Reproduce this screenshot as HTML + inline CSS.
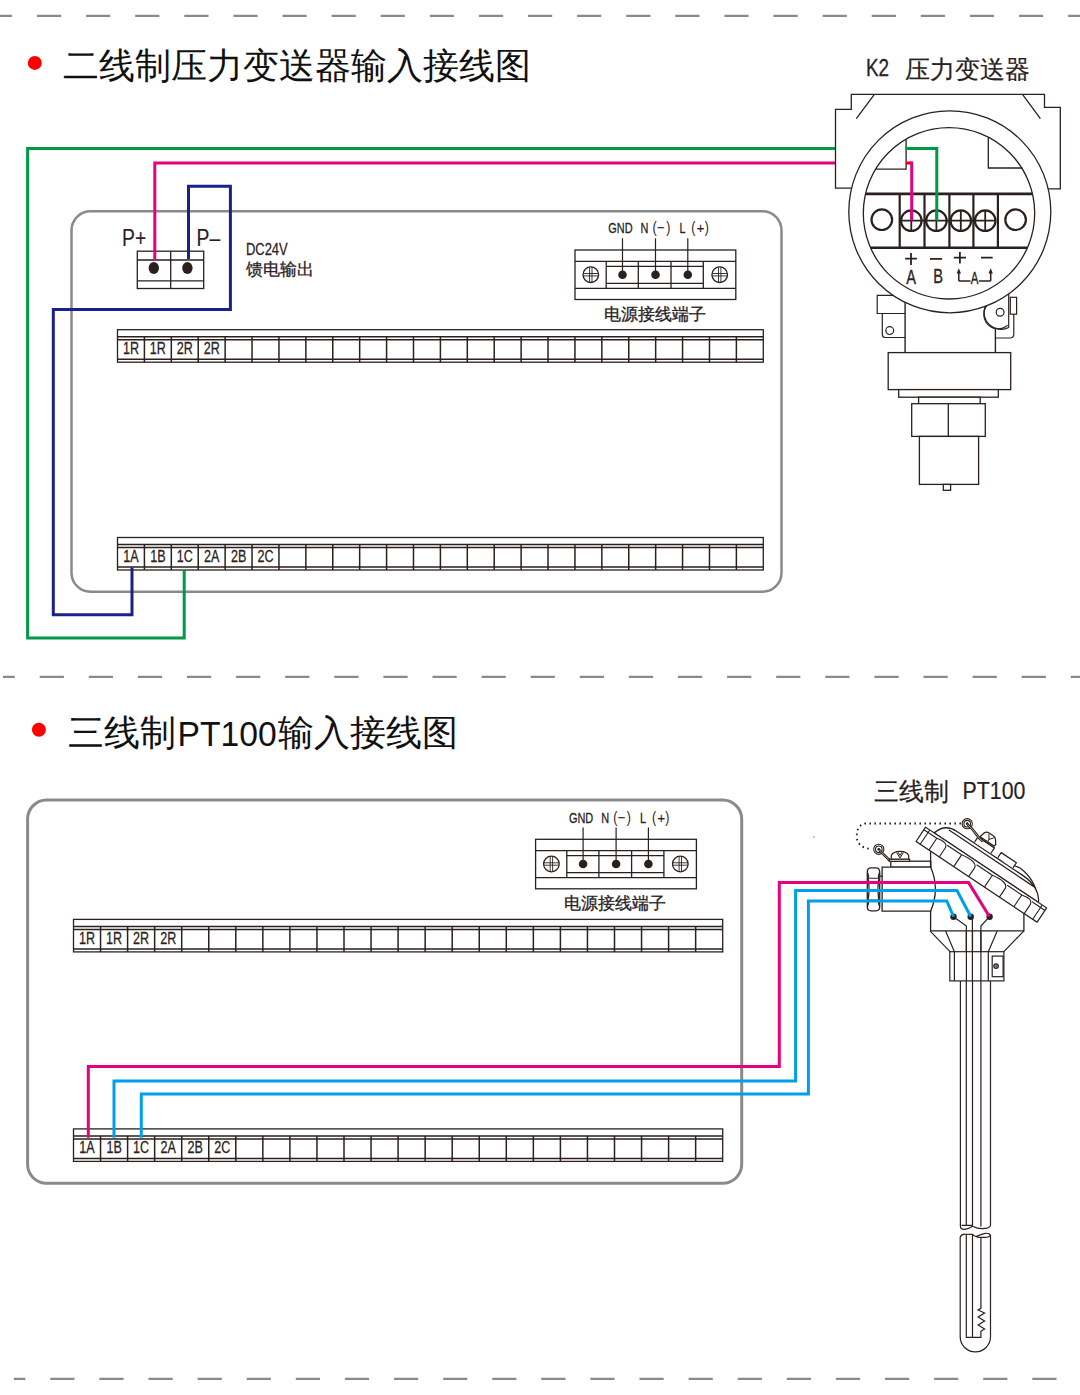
<!DOCTYPE html><html><head><meta charset="utf-8"><style>html,body{margin:0;padding:0;background:#fff;width:1080px;height:1395px;overflow:hidden}svg{display:block;font-family:"Liberation Sans",sans-serif}</style></head><body>
<svg width="1080" height="1395" viewBox="0 0 1080 1395">
<rect width="1080" height="1395" fill="#fff"/>
<path d="M0.0 15.9H12.1M37.0 15.9H61.2M86.1 15.9H110.3M135.2 15.9H159.4M184.3 15.9H208.5M233.4 15.9H257.6M282.5 15.9H306.7M331.6 15.9H355.8M380.7 15.9H404.9M429.8 15.9H454.0M478.9 15.9H503.1M528.0 15.9H552.2M577.1 15.9H601.3M626.2 15.9H650.4M675.3 15.9H699.5M724.4 15.9H748.6M773.5 15.9H797.7M822.6 15.9H846.8M871.7 15.9H895.9M920.8 15.9H945.0M969.9 15.9H994.1M1019.0 15.9H1043.2M1068.1 15.9H1080.0" stroke="#8a8a8a" stroke-width="2.2" fill="none"/>
<path d="M3.0 676.9H14.8M39.7 676.9H63.9M88.8 676.9H113.0M137.9 676.9H162.1M187.0 676.9H211.2M236.1 676.9H260.3M285.2 676.9H309.4M334.3 676.9H358.5M383.4 676.9H407.6M432.5 676.9H456.7M481.6 676.9H505.8M530.7 676.9H554.9M579.8 676.9H604.0M628.9 676.9H653.1M678.0 676.9H702.2M727.1 676.9H751.3M776.2 676.9H800.4M825.3 676.9H849.5M874.4 676.9H898.6M923.5 676.9H947.7M972.6 676.9H996.8M1021.7 676.9H1045.9M1070.8 676.9H1080.0" stroke="#8a8a8a" stroke-width="2.2" fill="none"/>
<path d="M13.9 1378.9H25.4M50.3 1378.9H74.5M99.4 1378.9H123.6M148.5 1378.9H172.7M197.6 1378.9H221.8M246.7 1378.9H270.9M295.8 1378.9H320.0M344.9 1378.9H369.1M394.0 1378.9H418.2M443.1 1378.9H467.3M492.2 1378.9H516.4M541.3 1378.9H565.5M590.4 1378.9H614.6M639.5 1378.9H663.7M688.6 1378.9H712.8M737.7 1378.9H761.9M786.8 1378.9H811.0M835.9 1378.9H860.1M885.0 1378.9H909.2M934.1 1378.9H958.3M983.2 1378.9H1007.4M1032.3 1378.9H1056.5" stroke="#8a8a8a" stroke-width="2.2" fill="none"/>
<circle cx="34.8" cy="62.9" r="7" fill="#ff0000"/>
<text transform="translate(63.4,77.5) scale(1.0,1)" font-family="'Liberation Sans',sans-serif" font-size="35.9" text-anchor="start" fill="#111" font-weight="normal" >二线制压力变送器输入接线图</text>
<rect x="71.5" y="211.2" width="710" height="380.5" rx="19" fill="none" stroke="#8a8a8a" stroke-width="2.5"/>
<g stroke="#2a211e" fill="none" stroke-width="1.3"><rect x="137.3" y="251.2" width="66.4" height="37.3"/><path d="M170.7 251.2V288.5M137.3 260H203.7M137.3 280.8H203.7"/></g>
<ellipse cx="153.8" cy="268" rx="5.2" ry="6" fill="#2a211e"/><ellipse cx="187.4" cy="268" rx="5.2" ry="6" fill="#2a211e"/>
<text transform="translate(122,245.6) scale(0.78,1)" font-family="'Liberation Sans',sans-serif" font-size="24.8" text-anchor="start" fill="#2a211e" font-weight="normal" stroke="#2a211e" stroke-width="0.15" >P+</text>
<text transform="translate(196.5,245.6) scale(0.78,1)" font-family="'Liberation Sans',sans-serif" font-size="24.8" text-anchor="start" fill="#2a211e" font-weight="normal" stroke="#2a211e" stroke-width="0.15" >P–</text>
<text transform="translate(245.9,254.8) scale(0.76,1)" font-family="'Liberation Sans',sans-serif" font-size="17.1" text-anchor="start" fill="#2a211e" font-weight="normal" stroke="#2a211e" stroke-width="0.25" >DC24V</text>
<text transform="translate(246,275) scale(1.0,1)" font-family="'Liberation Sans',sans-serif" font-size="16.5" text-anchor="start" fill="#2a211e" font-weight="normal" stroke="#2a211e" stroke-width="0.3" >馈电输出</text>
<g stroke="#2a211e" fill="none" stroke-width="1.3">
<rect x="575.0" y="250.0" width="160.8" height="49.5"/>
<path d="M575.0 261.3H735.8M575.0 288.3H735.8"/>
<path d="M606.2 261.3V288.3M638.3 261.3V288.3M671.0 261.3V288.3M703.3 261.3V288.3"/>
<path d="M606.2 266.3H703.3M606.2 283.3H703.3"/>
<path d="M622.5 238.3V274.7M655.5 238.3V274.7M687.8 238.3V274.7" stroke-width="1.2"/>
<circle cx="590.8" cy="274.7" r="7.8"/>
<path d="M589.6 267.2V282.2M592.0 267.2V282.2M583.3 273.5H598.3M583.3 275.9H598.3" stroke-width="0.9"/>
<circle cx="719.7" cy="274.7" r="7.8"/>
<path d="M718.5 267.2V282.2M720.9 267.2V282.2M712.2 273.5H727.2M712.2 275.9H727.2" stroke-width="0.9"/>
</g>
<circle cx="622.5" cy="274.7" r="4.3" fill="#2a211e"/>
<circle cx="655.5" cy="274.7" r="4.3" fill="#2a211e"/>
<circle cx="687.8" cy="274.7" r="4.3" fill="#2a211e"/>
<text transform="translate(608.3,233.3) scale(0.72,1)" font-family="'Liberation Sans',sans-serif" font-size="15.2" text-anchor="start" fill="#2a211e" font-weight="normal" stroke="#2a211e" stroke-width="0.3" >GND</text>
<text transform="translate(640.6,233.3) scale(0.72,1)" font-family="'Liberation Sans',sans-serif" font-size="15.2" text-anchor="start" fill="#2a211e" font-weight="normal" stroke="#2a211e" stroke-width="0.3" >N</text>
<text transform="translate(654.6,233.2) scale(0.75,1)" font-family="'Liberation Sans',sans-serif" font-size="16.5" text-anchor="middle" fill="#2a211e" font-weight="normal" >(</text>
<text transform="translate(660.8,233.3) scale(0.85,1)" font-family="'Liberation Sans',sans-serif" font-size="15.2" text-anchor="middle" fill="#2a211e" font-weight="normal" stroke="#2a211e" stroke-width="0.2" >−</text>
<text transform="translate(668.2,233.2) scale(0.75,1)" font-family="'Liberation Sans',sans-serif" font-size="16.5" text-anchor="middle" fill="#2a211e" font-weight="normal" >)</text>
<text transform="translate(679.4,233.3) scale(0.72,1)" font-family="'Liberation Sans',sans-serif" font-size="15.2" text-anchor="start" fill="#2a211e" font-weight="normal" stroke="#2a211e" stroke-width="0.3" >L</text>
<text transform="translate(693.4,233.2) scale(0.75,1)" font-family="'Liberation Sans',sans-serif" font-size="16.5" text-anchor="middle" fill="#2a211e" font-weight="normal" >(</text>
<text transform="translate(700.6,233.3) scale(0.85,1)" font-family="'Liberation Sans',sans-serif" font-size="15.2" text-anchor="middle" fill="#2a211e" font-weight="normal" stroke="#2a211e" stroke-width="0.2" >+</text>
<text transform="translate(706.7,233.2) scale(0.75,1)" font-family="'Liberation Sans',sans-serif" font-size="16.5" text-anchor="middle" fill="#2a211e" font-weight="normal" >)</text>
<text transform="translate(654.5,320.0) scale(1.0,1)" font-family="'Liberation Sans',sans-serif" font-size="16.6" text-anchor="middle" fill="#2a211e" font-weight="normal" stroke="#2a211e" stroke-width="0.3" >电源接线端子</text>
<g stroke="#2a211e" fill="none" stroke-width="1.3">
<rect x="117.5" y="329.7" width="645.79" height="32.5"/>
<path d="M117.5 336.7H763.29M117.5 339.7H763.29M117.5 359.2H763.29" stroke-width="1.5"/>
<path d="M144.41 336.7V362.2M171.32 336.7V362.2M198.22 336.7V362.2M225.13 336.7V362.2M252.04 336.7V362.2M278.95 336.7V362.2M305.86 336.7V362.2M332.76 336.7V362.2M359.67 336.7V362.2M386.58 336.7V362.2M413.49 336.7V362.2M440.40 336.7V362.2M467.30 336.7V362.2M494.21 336.7V362.2M521.12 336.7V362.2M548.03 336.7V362.2M574.94 336.7V362.2M601.84 336.7V362.2M628.75 336.7V362.2M655.66 336.7V362.2M682.57 336.7V362.2M709.48 336.7V362.2M736.38 336.7V362.2" stroke-width="1.5"/>
</g>
<text transform="translate(130.95,353.8) scale(0.8,1)" font-family="'Liberation Sans',sans-serif" font-size="15.7" text-anchor="middle" fill="#2a211e" font-weight="normal" stroke="#2a211e" stroke-width="0.25" >1R</text>
<text transform="translate(157.86,353.8) scale(0.8,1)" font-family="'Liberation Sans',sans-serif" font-size="15.7" text-anchor="middle" fill="#2a211e" font-weight="normal" stroke="#2a211e" stroke-width="0.25" >1R</text>
<text transform="translate(184.77,353.8) scale(0.8,1)" font-family="'Liberation Sans',sans-serif" font-size="15.7" text-anchor="middle" fill="#2a211e" font-weight="normal" stroke="#2a211e" stroke-width="0.25" >2R</text>
<text transform="translate(211.68,353.8) scale(0.8,1)" font-family="'Liberation Sans',sans-serif" font-size="15.7" text-anchor="middle" fill="#2a211e" font-weight="normal" stroke="#2a211e" stroke-width="0.25" >2R</text>
<g stroke="#2a211e" fill="none" stroke-width="1.3">
<rect x="117.5" y="537.5" width="645.79" height="32.5"/>
<path d="M117.5 544.5H763.29M117.5 547.5H763.29M117.5 567.0H763.29" stroke-width="1.5"/>
<path d="M144.41 544.5V570.0M171.32 544.5V570.0M198.22 544.5V570.0M225.13 544.5V570.0M252.04 544.5V570.0M278.95 544.5V570.0M305.86 544.5V570.0M332.76 544.5V570.0M359.67 544.5V570.0M386.58 544.5V570.0M413.49 544.5V570.0M440.40 544.5V570.0M467.30 544.5V570.0M494.21 544.5V570.0M521.12 544.5V570.0M548.03 544.5V570.0M574.94 544.5V570.0M601.84 544.5V570.0M628.75 544.5V570.0M655.66 544.5V570.0M682.57 544.5V570.0M709.48 544.5V570.0M736.38 544.5V570.0" stroke-width="1.5"/>
</g>
<text transform="translate(130.95,561.6) scale(0.8,1)" font-family="'Liberation Sans',sans-serif" font-size="15.7" text-anchor="middle" fill="#2a211e" font-weight="normal" stroke="#2a211e" stroke-width="0.25" >1A</text>
<text transform="translate(157.86,561.6) scale(0.8,1)" font-family="'Liberation Sans',sans-serif" font-size="15.7" text-anchor="middle" fill="#2a211e" font-weight="normal" stroke="#2a211e" stroke-width="0.25" >1B</text>
<text transform="translate(184.77,561.6) scale(0.8,1)" font-family="'Liberation Sans',sans-serif" font-size="15.7" text-anchor="middle" fill="#2a211e" font-weight="normal" stroke="#2a211e" stroke-width="0.25" >1C</text>
<text transform="translate(211.68,561.6) scale(0.8,1)" font-family="'Liberation Sans',sans-serif" font-size="15.7" text-anchor="middle" fill="#2a211e" font-weight="normal" stroke="#2a211e" stroke-width="0.25" >2A</text>
<text transform="translate(238.59,561.6) scale(0.8,1)" font-family="'Liberation Sans',sans-serif" font-size="15.7" text-anchor="middle" fill="#2a211e" font-weight="normal" stroke="#2a211e" stroke-width="0.25" >2B</text>
<text transform="translate(265.49,561.6) scale(0.8,1)" font-family="'Liberation Sans',sans-serif" font-size="15.7" text-anchor="middle" fill="#2a211e" font-weight="normal" stroke="#2a211e" stroke-width="0.25" >2C</text>
<path d="M836 148.5H27.6V638H184.2V570" fill="none" stroke="#009a46" stroke-width="3" stroke-linejoin="miter"/>
<path d="M836 163H154.8V260" fill="none" stroke="#e4007f" stroke-width="3"/>
<path d="M188.5 259V186.3H230.4V309.5H53.3V614.8H132V567.5" fill="none" stroke="#1d2088" stroke-width="3"/>
<text transform="translate(866,76.1) scale(0.8,1)" font-family="'Liberation Sans',sans-serif" font-size="23.6" text-anchor="start" fill="#2a211e" font-weight="normal" stroke="#2a211e" stroke-width="0.3" >K2</text>
<text transform="translate(905,77.5) scale(1.0,1)" font-family="'Liberation Sans',sans-serif" font-size="24.5" text-anchor="start" fill="#2a211e" font-weight="normal" stroke="#2a211e" stroke-width="0.2" >压力变送器</text>
<g stroke="#2a211e" fill="none" stroke-width="1.3">
<path d="M851.5 188.2H835.5V109.4H851.3V94.4H1044.5V107.3H1060.3V188.8H1047.5"/>
<path d="M874.4 94.4L856.3 118.7M1022.5 94.4L1040.4 118.7"/>
</g>
<g stroke="#2a211e" fill="none" stroke-width="1.2">
<path d="M905.1 290V352.6M995.4 290V352.6" stroke-width="1.4"/>
<path d="M905 295.4H877.2V313.5H905M882.3 313.5V334.5Q882.3 337.5 885.3 337.5H905"/>
<circle cx="889.7" cy="330.6" r="3.9"/>
<path d="M995.6 338H1010Q1013.8 338 1013.8 334V314.2"/>
<path d="M985.1 290V306.3A17 17 0 0 0 1008.7 327.5V290Z" fill="#fff"/>
<path d="M988.8 303.5A14 14 0 0 0 1007.6 325.3"/>
<circle cx="1000.1" cy="312.3" r="3.9"/>
<rect x="1010.3" y="297.3" width="6.3" height="16.9" fill="#fff"/>
</g>
<circle cx="949.8" cy="211.8" r="101" fill="#fff" stroke="#2a211e" stroke-width="1.3"/>
<circle cx="949" cy="213.3" r="85.7" fill="#fff" stroke="#2a211e" stroke-width="1.3"/>
<g stroke="#2a211e" fill="none" stroke-width="1.3">
<path d="M906.1 139.2V169.1H875.6M988.3 137.6V168H1022.4"/>
</g>
<g stroke="#2a211e" fill="none" stroke-width="2.2">
<path d="M865.5 193.9H1032.5M870.6 247.8H1027.4" stroke-width="2.6"/>
<path d="M899.7 193.9V247.8M924.5 193.9V247.8M949.4 193.9V247.8M973.4 193.9V247.8M997.9 193.9V247.8"/>
<circle cx="881.8" cy="219.7" r="10.3"/><circle cx="1015.6" cy="219.7" r="10.3"/>
<circle cx="911.3" cy="220.7" r="10.3"/>
<path d="M911.3 210.4V231" stroke-width="1.8"/>
<circle cx="936.4" cy="220.7" r="10.3"/>
<path d="M936.4 210.4V231" stroke-width="1.8"/>
<circle cx="960.8" cy="220.7" r="10.3"/>
<path d="M960.8 210.4V231" stroke-width="1.8"/>
<circle cx="985.2" cy="220.7" r="10.3"/>
<path d="M985.2 210.4V231" stroke-width="1.8"/>
<path d="M901 220.7H995.5" stroke-width="1.8"/>
</g>
<path d="M905.5 148.5H936.8V220.7" fill="none" stroke="#009a46" stroke-width="3"/>
<path d="M906 163H911.7" fill="none" stroke="#e60012" stroke-width="3"/>
<path d="M911.7 161.5V220.7" fill="none" stroke="#e4007f" stroke-width="3"/>
<g stroke="#2a211e" stroke-width="1.8" fill="none">
<path d="M905.2 258.7H916.9M911 252.9V265M930 258.9H942.1M953.8 257.7H966M959.9 251.9V263.5M981 257.7H992.7"/>
<path d="M958.8 281V272M990.7 281V272M958.8 281H970.5M978.8 281H990.7" stroke-width="1.5"/>
</g>
<path d="M958.8 268.3L956.6 273.5H961ZM990.7 268.3L988.5 273.5H992.9Z" fill="#2a211e"/>
<text transform="translate(911,283.5) scale(0.73,1)" font-family="'Liberation Sans',sans-serif" font-size="20" text-anchor="middle" fill="#2a211e" font-weight="normal" stroke="#2a211e" stroke-width="0.35" >A</text>
<text transform="translate(938,282.5) scale(0.73,1)" font-family="'Liberation Sans',sans-serif" font-size="20" text-anchor="middle" fill="#2a211e" font-weight="normal" stroke="#2a211e" stroke-width="0.35" >B</text>
<text transform="translate(974.7,283.5) scale(0.7,1)" font-family="'Liberation Sans',sans-serif" font-size="16.5" text-anchor="middle" fill="#2a211e" font-weight="normal" stroke="#2a211e" stroke-width="0.35" >A</text>
<g stroke="#2a211e" fill="#fff" stroke-width="1.3">
<rect x="888.2" y="352.6" width="122.5" height="37"/>
<rect x="898.7" y="389.6" width="99.6" height="7.6"/>
<rect x="918.6" y="397.2" width="61.6" height="6.5"/>
<rect x="911.7" y="403.7" width="73.6" height="32.7"/>
<path d="M948.3 403.7V436.4" fill="none"/>
<rect x="919.4" y="436.4" width="59.2" height="48"/>
<rect x="943.3" y="484.4" width="7.3" height="5.9"/>
</g>
<circle cx="38.9" cy="729.7" r="7" fill="#ff0000"/>
<text transform="translate(67.9,744.5) scale(1.0,1)" font-family="'Liberation Sans',sans-serif" font-size="35.9" text-anchor="start" fill="#111" font-weight="normal" >三线制</text>
<text transform="translate(177.6,745.5) scale(0.935,1)" font-family="'Liberation Sans',sans-serif" font-size="36" text-anchor="start" fill="#111" font-weight="normal" >PT100</text>
<text transform="translate(278.3,744.5) scale(1.0,1)" font-family="'Liberation Sans',sans-serif" font-size="35.9" text-anchor="start" fill="#111" font-weight="normal" >输入接线图</text>
<rect x="27.6" y="800" width="714.1" height="383.3" rx="19" fill="none" stroke="#8a8a8a" stroke-width="3"/>
<g stroke="#2a211e" fill="none" stroke-width="1.3">
<rect x="535.6" y="839.3" width="160.8" height="49.5"/>
<path d="M535.6 850.6H696.4M535.6 877.6H696.4"/>
<path d="M566.8 850.6V877.6M598.9 850.6V877.6M631.6 850.6V877.6M663.9 850.6V877.6"/>
<path d="M566.8 855.6H663.9M566.8 872.6H663.9"/>
<path d="M583.1 827.6V864.0M616.1 827.6V864.0M648.4 827.6V864.0" stroke-width="1.2"/>
<circle cx="551.4" cy="864.0" r="7.8"/>
<path d="M550.2 856.5V871.5M552.6 856.5V871.5M543.9 862.8H558.9M543.9 865.2H558.9" stroke-width="0.9"/>
<circle cx="680.3" cy="864.0" r="7.8"/>
<path d="M679.1 856.5V871.5M681.5 856.5V871.5M672.8 862.8H687.8M672.8 865.2H687.8" stroke-width="0.9"/>
</g>
<circle cx="583.1" cy="864.0" r="4.3" fill="#2a211e"/>
<circle cx="616.1" cy="864.0" r="4.3" fill="#2a211e"/>
<circle cx="648.4" cy="864.0" r="4.3" fill="#2a211e"/>
<text transform="translate(568.9,822.6) scale(0.72,1)" font-family="'Liberation Sans',sans-serif" font-size="15.2" text-anchor="start" fill="#2a211e" font-weight="normal" stroke="#2a211e" stroke-width="0.3" >GND</text>
<text transform="translate(601.2,822.6) scale(0.72,1)" font-family="'Liberation Sans',sans-serif" font-size="15.2" text-anchor="start" fill="#2a211e" font-weight="normal" stroke="#2a211e" stroke-width="0.3" >N</text>
<text transform="translate(615.2,822.5) scale(0.75,1)" font-family="'Liberation Sans',sans-serif" font-size="16.5" text-anchor="middle" fill="#2a211e" font-weight="normal" >(</text>
<text transform="translate(621.4,822.6) scale(0.85,1)" font-family="'Liberation Sans',sans-serif" font-size="15.2" text-anchor="middle" fill="#2a211e" font-weight="normal" stroke="#2a211e" stroke-width="0.2" >−</text>
<text transform="translate(628.8,822.5) scale(0.75,1)" font-family="'Liberation Sans',sans-serif" font-size="16.5" text-anchor="middle" fill="#2a211e" font-weight="normal" >)</text>
<text transform="translate(640.0,822.6) scale(0.72,1)" font-family="'Liberation Sans',sans-serif" font-size="15.2" text-anchor="start" fill="#2a211e" font-weight="normal" stroke="#2a211e" stroke-width="0.3" >L</text>
<text transform="translate(654.0,822.5) scale(0.75,1)" font-family="'Liberation Sans',sans-serif" font-size="16.5" text-anchor="middle" fill="#2a211e" font-weight="normal" >(</text>
<text transform="translate(661.2,822.6) scale(0.85,1)" font-family="'Liberation Sans',sans-serif" font-size="15.2" text-anchor="middle" fill="#2a211e" font-weight="normal" stroke="#2a211e" stroke-width="0.2" >+</text>
<text transform="translate(667.3,822.5) scale(0.75,1)" font-family="'Liberation Sans',sans-serif" font-size="16.5" text-anchor="middle" fill="#2a211e" font-weight="normal" >)</text>
<text transform="translate(615.1,909.3) scale(1.0,1)" font-family="'Liberation Sans',sans-serif" font-size="16.6" text-anchor="middle" fill="#2a211e" font-weight="normal" stroke="#2a211e" stroke-width="0.3" >电源接线端子</text>
<g stroke="#2a211e" fill="none" stroke-width="1.3">
<rect x="73.5" y="919.4" width="649.20" height="32.5"/>
<path d="M73.5 926.4H722.70M73.5 929.4H722.70M73.5 948.9H722.70" stroke-width="1.5"/>
<path d="M100.55 926.4V951.9M127.60 926.4V951.9M154.65 926.4V951.9M181.70 926.4V951.9M208.75 926.4V951.9M235.80 926.4V951.9M262.85 926.4V951.9M289.90 926.4V951.9M316.95 926.4V951.9M344.00 926.4V951.9M371.05 926.4V951.9M398.10 926.4V951.9M425.15 926.4V951.9M452.20 926.4V951.9M479.25 926.4V951.9M506.30 926.4V951.9M533.35 926.4V951.9M560.40 926.4V951.9M587.45 926.4V951.9M614.50 926.4V951.9M641.55 926.4V951.9M668.60 926.4V951.9M695.65 926.4V951.9" stroke-width="1.5"/>
</g>
<text transform="translate(87.03,943.5) scale(0.8,1)" font-family="'Liberation Sans',sans-serif" font-size="15.7" text-anchor="middle" fill="#2a211e" font-weight="normal" stroke="#2a211e" stroke-width="0.25" >1R</text>
<text transform="translate(114.08,943.5) scale(0.8,1)" font-family="'Liberation Sans',sans-serif" font-size="15.7" text-anchor="middle" fill="#2a211e" font-weight="normal" stroke="#2a211e" stroke-width="0.25" >1R</text>
<text transform="translate(141.12,943.5) scale(0.8,1)" font-family="'Liberation Sans',sans-serif" font-size="15.7" text-anchor="middle" fill="#2a211e" font-weight="normal" stroke="#2a211e" stroke-width="0.25" >2R</text>
<text transform="translate(168.18,943.5) scale(0.8,1)" font-family="'Liberation Sans',sans-serif" font-size="15.7" text-anchor="middle" fill="#2a211e" font-weight="normal" stroke="#2a211e" stroke-width="0.25" >2R</text>
<g stroke="#2a211e" fill="none" stroke-width="1.3">
<rect x="73.5" y="1128.9" width="649.20" height="32.5"/>
<path d="M73.5 1135.9H722.70M73.5 1138.9H722.70M73.5 1158.4H722.70" stroke-width="1.5"/>
<path d="M100.55 1135.9V1161.4M127.60 1135.9V1161.4M154.65 1135.9V1161.4M181.70 1135.9V1161.4M208.75 1135.9V1161.4M235.80 1135.9V1161.4M262.85 1135.9V1161.4M289.90 1135.9V1161.4M316.95 1135.9V1161.4M344.00 1135.9V1161.4M371.05 1135.9V1161.4M398.10 1135.9V1161.4M425.15 1135.9V1161.4M452.20 1135.9V1161.4M479.25 1135.9V1161.4M506.30 1135.9V1161.4M533.35 1135.9V1161.4M560.40 1135.9V1161.4M587.45 1135.9V1161.4M614.50 1135.9V1161.4M641.55 1135.9V1161.4M668.60 1135.9V1161.4M695.65 1135.9V1161.4" stroke-width="1.5"/>
</g>
<text transform="translate(87.03,1153.0) scale(0.8,1)" font-family="'Liberation Sans',sans-serif" font-size="15.7" text-anchor="middle" fill="#2a211e" font-weight="normal" stroke="#2a211e" stroke-width="0.25" >1A</text>
<text transform="translate(114.08,1153.0) scale(0.8,1)" font-family="'Liberation Sans',sans-serif" font-size="15.7" text-anchor="middle" fill="#2a211e" font-weight="normal" stroke="#2a211e" stroke-width="0.25" >1B</text>
<text transform="translate(141.12,1153.0) scale(0.8,1)" font-family="'Liberation Sans',sans-serif" font-size="15.7" text-anchor="middle" fill="#2a211e" font-weight="normal" stroke="#2a211e" stroke-width="0.25" >1C</text>
<text transform="translate(168.18,1153.0) scale(0.8,1)" font-family="'Liberation Sans',sans-serif" font-size="15.7" text-anchor="middle" fill="#2a211e" font-weight="normal" stroke="#2a211e" stroke-width="0.25" >2A</text>
<text transform="translate(195.23,1153.0) scale(0.8,1)" font-family="'Liberation Sans',sans-serif" font-size="15.7" text-anchor="middle" fill="#2a211e" font-weight="normal" stroke="#2a211e" stroke-width="0.25" >2B</text>
<text transform="translate(222.28,1153.0) scale(0.8,1)" font-family="'Liberation Sans',sans-serif" font-size="15.7" text-anchor="middle" fill="#2a211e" font-weight="normal" stroke="#2a211e" stroke-width="0.25" >2C</text>
<text transform="translate(874,800) scale(1.0,1)" font-family="'Liberation Sans',sans-serif" font-size="24.5" text-anchor="start" fill="#2a211e" font-weight="normal" stroke="#2a211e" stroke-width="0.2" >三线制</text>
<text transform="translate(962.5,799.3) scale(0.92,1)" font-family="'Liberation Sans',sans-serif" font-size="23.2" text-anchor="start" fill="#2a211e" font-weight="normal" stroke="#2a211e" stroke-width="0.2" >PT100</text>
<circle cx="813.8" cy="837.1" r="0.8" fill="#888"/>
<g stroke="#2a211e" fill="none" stroke-width="1.2">
<path d="M960.4 980.9V1226M990.5 980.9V1225M966.3 926V1225.4M972.5 916.7V1225.4M980.9 926V1226.6"/>
<path d="M960.4 1225.5Q960 1229.6 965 1229.3Q969 1228.6 972.6 1226.2Q977.5 1228.8 982.5 1228.7Q990.5 1228.4 990.5 1225M961.5 1225.4H972.6" />
<path d="M960.2 1237V1336.8A15.15 15.15 0 0 0 990.5 1336.8V1235.4"/>
<path d="M960.2 1237Q961.5 1234 965 1234.1Q969 1234.1 972.6 1234.4Q974 1236 976 1236.5Q981 1234 985.2 1233.3Q989.5 1233 990.5 1235.2Q989.5 1237 985 1237.4H980.1Q977.5 1237.4 976 1236.5" />
<path d="M966.3 1234.1V1337.4H980.9V1331.3L984.6 1329L978.1 1325L984.6 1321L978.1 1317L984.6 1313L978.1 1310L980.9 1308.3V1237.5M972.5 1234.4V1337.4"/>
<rect x="949.8" y="951.7" width="54.1" height="29.2" fill="#fff"/>
<path d="M954.4 951.7V980.9M988.3 951.7V980.9M966.4 951.7V980.9M972.4 951.7V980.9M980.9 951.7V980.9"/>
<rect x="992.2" y="956.1" width="10.9" height="20.6"/>
<circle cx="996.1" cy="966.1" r="2.3"/><path d="M993.8 966.1H998.4M996.1 963.8V968.4" stroke-width="0.8"/>
<path d="M930 930.8L950 951.7M1023.9 930.8L1003.9 951.7M945.6 931L954.4 951.7M997.2 931L988.3 951.7"/>
<path d="M966.4 926V951.7M972.4 916.7V951.7M980.9 926V951.7"/>
</g>
<g stroke="#2a211e" fill="#fff" stroke-width="1.3">
<path d="M930.6 851.7V930.8H1023.9V913.5L1037.8 898.9Q1036 880 1020 868L935 832Q931 838 930.6 851.7Z"/>
<rect x="890.8" y="861.2" width="39.8" height="6"/>
<path d="M882.1 867.1H930.6Q940.2 889 930.6 911.2H882.1Z"/>
<path d="M930.6 861.2V867.1" fill="none"/>
<path d="M879.7 876.2H882.5M879.7 901.2H882.5" fill="none"/>
<path d="M867.3 872Q867.3 867.9 871 867.9H876Q879.7 867.9 879.7 872V906.8Q879.7 910.8 876 910.8H871Q867.3 910.8 867.3 906.8Z"/>
<path d="M868.2 878.3H878.8M868.2 900H878.8M867.6 872.5Q869.3 876 868.2 878.3M879.4 872.5Q877.7 876 878.8 878.3M868.2 878.3Q870 889 868.2 900M878.8 878.3Q877 889 878.8 900M868.2 900Q869.3 903 867.6 906.5M878.8 900Q877.7 903 879.4 906.5" fill="none" stroke-width="1.1"/>
<path d="M953.5 916.7L966.4 926V930.8M989.6 916.7L980.9 926V930.8M972.4 930.8V916.7" fill="none" stroke-width="1.2"/>
</g>
<g transform="translate(925.6,827.2) rotate(33.7)" stroke="#2a211e" fill="#fff" stroke-width="1.25" stroke-linejoin="round">
<path d="M10.5 0C12.5 -8 17 -13.8 28 -13.8H108C121 -13.8 132 -8 135.5 0Z"/>
<path d="M21 -10.6H123" fill="none"/>
<path d="M49 -14.6V-21H68.8V-14.6"/>
<path d="M50.5 -22.3L52 -28Q53 -30.5 56 -30.5H61Q63.5 -30.5 65 -28.5L68 -24.5L67.5 -22.3Z"/>
<path d="M49.5 -21.2H68.5M56.5 -29.5L59.5 -25L63 -29.5M59.5 -25V-22.3" fill="none" stroke-width="1"/>
<path d="M77 -14.6V-20.8H95.3V-14.6"/>
<rect x="0" y="0" width="145.5" height="17.2"/>
<path d="M0 3H15.5M27.9 3H45.3M63.3 3H82.2M100.2 3H117.6M130 3H145.5" fill="none" stroke-width="1.1"/>
<path d="M5 0V17.2M15.5 3V17.2M27.9 7V17.2M45.3 3V17.2M63.3 7V17.2M82.2 3V17.2M100.2 7V17.2M117.6 3V17.2M130 7V17.2M140.2 0V17.2M15.5 3C22.32 1.2 27.9 1.5 27.9 7M45.3 3C55.199999999999996 1.2 63.3 1.5 63.3 7M82.2 3C92.10000000000001 1.2 100.2 1.5 100.2 7M117.6 3C124.42 1.2 130 1.5 130 7" fill="none" stroke-width="1.1"/>
</g>
<g stroke="#2a211e" fill="none" stroke-width="1.1">
<circle cx="967.2" cy="823.7" r="5.1"/><circle cx="967.2" cy="823.7" r="3.3"/><circle cx="967.2" cy="823.7" r="1.4" fill="#2a211e" stroke="none"/>
<circle cx="878.8" cy="849.3" r="5.1"/><circle cx="878.8" cy="849.3" r="3.3"/><circle cx="878.8" cy="849.3" r="1.4" fill="#2a211e" stroke="none"/>
<path d="M967.6 824.8Q973 829 976.5 834.5Q979 838.5 983 841.5" stroke-width="2.6"/>
<path d="M967.6 824.8Q973 829 976.5 834.5Q979 838.5 983 841.5" stroke="#fff" stroke-width="0.6"/>
<path d="M879.5 850.3L889.8 860.5" stroke-width="2.6"/>
<path d="M879.5 850.3L889.8 860.5" stroke="#fff" stroke-width="0.6"/>
<path d="M961 823.5H866Q857 824 856.7 836.7Q857.5 848 871.5 849" stroke-dasharray="1.6 3.4" stroke-width="1.8"/>
</g>
<g stroke="#2a211e" fill="#fff" stroke-width="1.2"><rect x="889.4" y="859.2" width="20.2" height="2.1"/><path d="M891.3 859.2V855.5Q893 851.3 900 851.3Q907 851.3 908.7 855.5V859.2Z"/><path d="M896.6 852.6L900 858L903.4 852.6M898 852.3L900 855.5L902 852.3" fill="none" stroke-width="1"/></g>
<circle cx="953.5" cy="916.7" r="3.2" fill="#2a211e"/>
<circle cx="970.7" cy="916.7" r="3.2" fill="#2a211e"/>
<circle cx="989.6" cy="916.7" r="3.2" fill="#2a211e"/>
<path d="M88.3 1137.8V1066.5H779.3V882.6H968.6L989.4 916.5" fill="none" stroke="#e4007f" stroke-width="3"/>
<path d="M114 1137.8V1081H795.6V890.6H957L970.7 916.5" fill="none" stroke="#00a0e9" stroke-width="3"/>
<path d="M141.3 1137.8V1093.9H808.4V901H946.8L953.5 916.5" fill="none" stroke="#00a0e9" stroke-width="3"/>
</svg></body></html>
